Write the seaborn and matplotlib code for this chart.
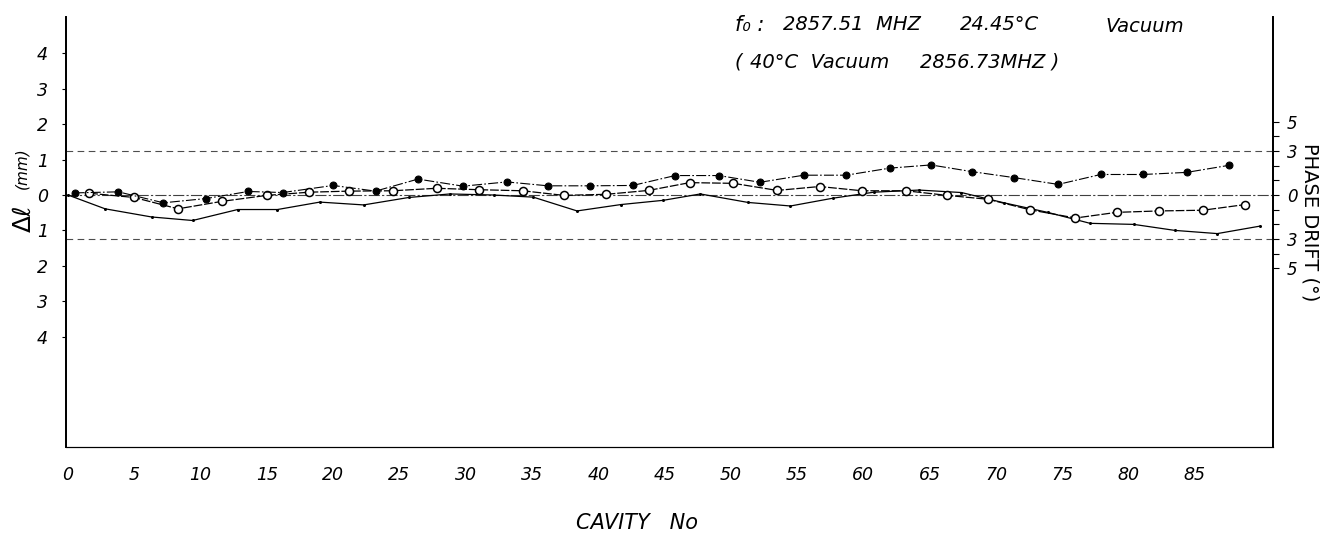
import numpy as np
import pandas as pd
import matplotlib
matplotlib.use("Agg")
import matplotlib.pyplot as plt
import seaborn as sns

#Series: cavity number vs length deviation (mm)
#filled dots
cav_filled = [0.5, 3.8, 7.2, 10.4, 13.6, 16.2, 20.0, 23.2, 26.4, 29.8, 33.1, 36.2, 39.4, 42.6,
              45.8, 49.1, 52.2, 55.5, 58.7, 62.0, 65.1, 68.2, 71.4, 74.7, 77.9, 81.1, 84.4, 87.6]
dl_filled = [0.06, 0.09, -0.22, -0.10, 0.10, 0.07, 0.27, 0.11, 0.45, 0.25, 0.37, 0.26, 0.26, 0.27,
             0.55, 0.55, 0.36, 0.56, 0.56, 0.76, 0.85, 0.66, 0.49, 0.30, 0.58, 0.58, 0.64, 0.84]
#open circles
cav_open = [1.6, 5.0, 8.3, 11.6, 15.0, 18.2, 21.2, 24.5, 27.8, 31.0, 34.3, 37.4, 40.6, 43.8,
            46.9, 50.2, 53.5, 56.7, 59.9, 63.2, 66.3, 69.4, 72.6, 76.0, 79.1, 82.3, 85.6, 88.8]
dl_open = [0.05, -0.07, -0.39, -0.18, -0.01, 0.08, 0.11, 0.12, 0.19, 0.15, 0.12, -0.01, 0.02, 0.13,
           0.35, 0.33, 0.13, 0.24, 0.12, 0.12, -0.01, -0.12, -0.42, -0.65, -0.49, -0.45, -0.43, -0.27]
#small dots
cav_dot = [0.0, 2.8, 6.3, 9.4, 12.8, 15.8, 19.0, 22.3, 25.7, 28.8, 32.1, 35.1, 38.4, 41.7, 44.9,
           47.7, 51.3, 54.5, 57.7, 60.8, 64.2, 67.4, 70.6, 73.9, 77.1, 80.4, 83.5, 86.7, 89.9]
dl_dot = [0.0, -0.39, -0.62, -0.72, -0.41, -0.41, -0.20, -0.28, -0.07, 0.03, 0.0, -0.06, -0.45, -0.27,
          -0.15, 0.03, -0.21, -0.31, -0.09, 0.08, 0.14, 0.07, -0.22, -0.49, -0.80, -0.83, -1.0, -1.09, -0.88]

x_ticks = list(range(0, 90, 5))
left_ticks = [4, 3, 2, 1, 0, -1, -2, -3, -4]
left_labels = ["4", "3", "2", "1", "0", "1", "2", "3", "4"]
right_ticks = [5, 3, 0, -3, -5]
right_labels = ["5", "3", "0", "3", "5"]
right_minor = [4, 2, 1, -1, -2, -4]
phase_limit = 3

sns.set_style("white")
plt.rcParams['font.family'] = ['DejaVu Sans']
plt.rcParams['text.color'] = 'k'

fig = plt.figure(figsize=(13.35, 5.33), dpi=100)
ax = fig.add_axes([66/1335, 1-447/533, (1273-66)/1335, (447-17)/533])

ymin, ymax = -7.12, 5.03
deg_per_mm = 2.41

#reference lines
ax.axhline(0, color='0.25', lw=0.8, ls=(0, (10, 2, 2, 2)), zorder=1)

sns.lineplot(x=cav_dot, y=dl_dot, ax=ax, color='k', lw=0.9, marker='o',
             markersize=2.2, markeredgewidth=0, zorder=3)
sns.lineplot(x=cav_open, y=dl_open, ax=ax, color='k', lw=0.9, ls=(0, (7, 1.5)),
             marker='o', markersize=5.8, markerfacecolor='white', markeredgecolor='k',
             markeredgewidth=1.1, zorder=4)
sns.lineplot(x=cav_filled, y=dl_filled, ax=ax, color='k', lw=0.8, ls=(0, (9, 2, 1.5, 2)),
             marker='o', markersize=5, markerfacecolor='k', markeredgecolor='k', zorder=5)

ax.set_xlim(-0.15, 90.9)
ax.set_ylim(ymin, ymax)
ax.set_xticks(x_ticks)
ax.set_xticklabels([str(t) for t in x_ticks], fontsize=12.5, style='italic')
ax.set_yticks(left_ticks)
ax.set_yticklabels(left_labels, fontsize=12.5, style='italic')
ax.tick_params(axis='x', direction='out', length=4, width=0.8, pad=10, colors='k')
ax.tick_params(axis='y', direction='out', length=3, width=0.8, pad=10, colors='k')
ax.set_xlabel('')
ax.set_ylabel('')

#right axis phase drift
ax2 = ax.twinx()
ax2.set_ylim(ymin*deg_per_mm, ymax*deg_per_mm)
ax2.axhline(phase_limit, color='0.3', lw=0.8, ls=(0, (6, 4)), zorder=1)
ax2.axhline(-phase_limit, color='0.3', lw=0.8, ls=(0, (6, 4)), zorder=1)
ax2.set_yticks(right_ticks)
ax2.set_yticklabels(right_labels, fontsize=12, style='italic')
ax2.set_yticks(right_minor, minor=True)
ax2.tick_params(axis='y', which='both', direction='out', length=4, width=0.8, pad=6, colors='k')

for a in (ax, ax2):
    a.spines['top'].set_visible(False)
    a.spines['left'].set_linewidth(1.3)
    a.spines['right'].set_linewidth(1.3)
    a.spines['bottom'].set_linewidth(0.8)
    for s in a.spines.values():
        s.set_color('k')
    a.grid(False)

#annotations
fig.text(735/1335, 1-25/533, "f\u2080 :", fontsize=15, style='italic', va='center')
fig.text(783/1335, 1-25/533, "2857.51  MHZ", fontsize=14, style='italic', va='center')
fig.text(960/1335, 1-25/533, "24.45°C", fontsize=14, style='italic', va='center')
fig.text(1105/1335, 1-27/533, "Vacuum", fontsize=14, style='italic', va='center')
fig.text(735/1335, 1-62/533, "(", fontsize=14, style='italic', va='center')
fig.text(750/1335, 1-62/533, "40°C  Vacuum", fontsize=14, style='italic', va='center')
fig.text(920/1335, 1-62/533, "2856.73MHZ )", fontsize=14, style='italic', va='center')

fig.text(24/1335, 1-218/533, "\u0394\u2113", fontsize=18, rotation=90, ha='center', va='center')
fig.text(22/1335, 1-168/533, "(mm)", fontsize=11, style='italic', rotation=90, ha='center', va='center')
fig.text(1310/1335, 1-222/533, "PHASE DRIFT (°)", fontsize=14, rotation=-90, ha='center', va='center')
fig.text(637/1335, 1-523/533, "CAVITY   No", fontsize=15, style='italic', ha='center', va='center')

fig.savefig("out.png", dpi=100)
